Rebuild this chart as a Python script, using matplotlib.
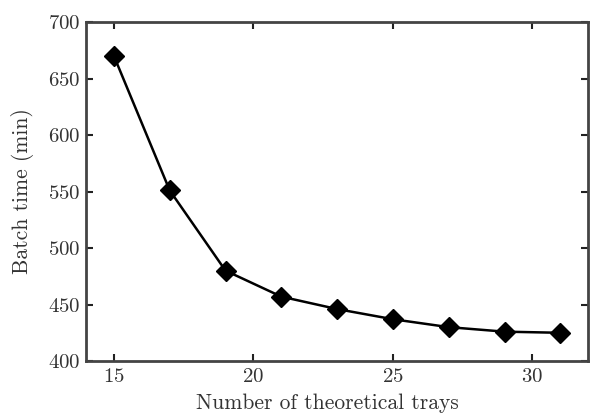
import matplotlib
matplotlib.use("Agg")
import matplotlib.pyplot as plt

# batch time versus number of theoretical trays
trays = [15, 17, 19, 21, 23, 25, 27, 29, 31]
batch_time = [670, 551, 480, 457, 446, 437, 430, 426, 425]
x_ticks = [15, 20, 25, 30]
y_ticks = [400, 450, 500, 550, 600, 650, 700]

plt.rcParams['font.family'] = 'cmr10'
plt.rcParams['mathtext.fontset'] = 'cm'
plt.rcParams['axes.formatter.use_mathtext'] = True

fig = plt.figure(figsize=(5.93, 4.15), dpi=100)
ax = fig.add_axes([0.145, 0.130, 0.847, 0.817])

ax.plot(trays, batch_time, color='black', linewidth=1.8,
        marker='D', markersize=10, markerfacecolor='black', markeredgecolor='black')

ax.set_xlim(14, 32)
ax.set_ylim(400, 700)
ax.set_xticks(x_ticks)
ax.set_yticks(y_ticks)
ax.tick_params(direction='in', top=True, right=True, length=5, width=1.5,
               labelsize=15, color='#222222', labelcolor='#333333')
ax.tick_params(axis='x', pad=5)
ax.tick_params(axis='y', pad=4)
for s in ax.spines.values():
    s.set_linewidth(2.0)
    s.set_color('#444444')

ax.set_xlabel('Number of theoretical trays', fontsize=15.5, color='#333333')
ax.set_ylabel('Batch time (min)', fontsize=15.5, color='#333333')
ax.xaxis.set_label_coords(0.48, -0.095)
ax.yaxis.set_label_coords(-0.104, 0.5)

fig.savefig('out.png', dpi=100)
